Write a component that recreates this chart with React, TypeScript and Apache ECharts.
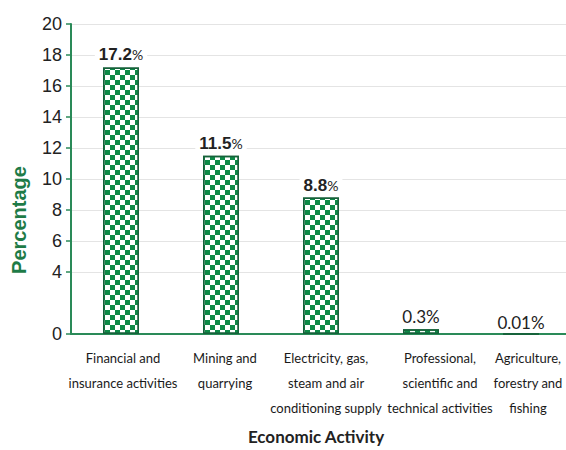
import React, { useEffect, useRef } from "react";
import * as echarts from "echarts";

const categories = [
  "Financial and\ninsurance activities",
  "Mining and\nquarrying",
  "Electricity, gas,\nsteam and air\nconditioning supply",
  "Professional,\nscientific and\ntechnical activities",
  "Agriculture,\nforestry and\nfishing",
];
const values = [17.2, 11.5, 8.8, 0.3, 0.01];
const valueLabels = ["17.2", "11.5", "8.8", "0.3", "0.01"];
const yTicks = [0, 4, 6, 8, 10, 12, 14, 16, 18, 20];
const xTitle = "Economic Activity";
const yTitle = "Percentage";

const GREEN = "#0e8a47";
const DARK_GREEN = "#16613a";
const AXIS_GREEN = "#2a8a58";

// horizontal nudges of the category labels (pixels; negative = left) to keep them apart
const labelShift = [2, 4, 5, 19, 7];

export default function App() {
  const ref = useRef<HTMLDivElement>(null);
  useEffect(() => {
    if (!ref.current) return;
    const chart = echarts.init(ref.current, undefined, { renderer: "svg" });
    chart.setOption({
      animation: false,
      backgroundColor: "#fff",
      grid: { left: 71, right: -5, top: 24, bottom: 116, containLabel: false, outerBoundsMode: "none" },
      xAxis: {
        type: "category",
        data: categories.map((c, i) => {
          const s = labelShift[i];
          return {
            value: c,
            textStyle: {
              padding: s >= 0 ? [0, 0, 0, 2 * s] : [0, -2 * s, 0, 0],
            },
          };
        }),
        name: xTitle,
        nameLocation: "middle",
        nameGap: 94,
        nameTextStyle: { fontFamily: "Lato", fontWeight: "bold", fontSize: 17, color: "#222", padding: [0, 10, 0, 0] },
        axisLine: { show: true, lineStyle: { color: AXIS_GREEN, width: 2 } },
        axisTick: { show: false },
        axisLabel: {
          interval: 0,
          fontFamily: "Lato",
          fontSize: 13,
          lineHeight: 25,
          color: "#1a1a1a",
          margin: 11,
        },
      },
      yAxis: {
        type: "value",
        min: 0,
        max: 20,
        axisLine: { show: true, lineStyle: { color: AXIS_GREEN, width: 2 } },
        axisTick: { show: true, length: 5, customValues: yTicks, lineStyle: { color: AXIS_GREEN, width: 1.5 } },
        axisLabel: {
          customValues: yTicks,
          fontFamily: "Liberation Sans",
          fontSize: 18,
          color: "#222",
          margin: 9,
        },
        splitLine: { show: true, lineStyle: { color: "#e4e4e4", width: 1 } },
      },
      graphic: [
        {
          type: "text",
          x: 19,
          y: 220,
          rotation: Math.PI / 2,
          style: {
            text: yTitle,
            fontFamily: "Liberation Sans",
            fontWeight: "bold",
            fontSize: 20,
            fill: "#1e7b47",
            align: "center",
            verticalAlign: "middle",
          },
        },
      ],
      series: [
        {
          type: "bar",
          barWidth: 36,
          data: values.map((v, i) => ({
            value: v,
            label: {
              distance: v < 0.1 ? 2 : 4,
              formatter: v >= 1 ? `{n|${valueLabels[i]}}{p|%}` : `{s|${valueLabels[i]}%}`,
            },
          })),
          itemStyle: {
            color: "#ffffff",
            borderColor: DARK_GREEN,
            borderWidth: 1.5,
            decal: {
              symbol: "rect",
              symbolSize: 1,
              color: GREEN,
              dashArrayX: [[5, 5], [0, 5, 5, 0]],
              dashArrayY: [5, 0],
              rotation: 0,
            },
          },
          label: {
            show: true,
            position: "top",
            distance: 4,
            backgroundColor: "#fff",
            padding: [0, 4],
            rich: {
              n: { fontFamily: "Liberation Sans", fontWeight: "bold", fontSize: 17, color: "#222" },
              p: { fontFamily: "Lato", fontSize: 14, color: "#222" },
              s: { fontFamily: "Lato", fontSize: 17, color: "#222" },
            },
          },
        },
      ],
    });
    return () => chart.dispose();
  }, []);
  return <div ref={ref} style={{ width: 566, height: 450, position: "absolute", left: 0, top: 0 }} />;
}
